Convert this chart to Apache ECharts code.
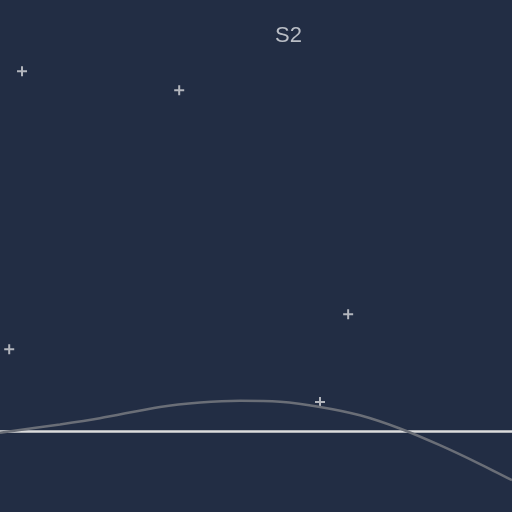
<!DOCTYPE html>
<html>
<head>
<meta charset="utf-8">
<script src="https://cdn.jsdelivr.net/npm/echarts@6/dist/echarts.min.js"></script>
<style>html,body{margin:0;padding:0;background:#222d44;}#c{width:512px;height:512px;}</style>
</head>
<body>
<div id="c"></div>
<script>
const titleText = 'S2';
const pointsX = [0.43, 3.5, 6.8, 0.18, 6.25];
const pointsY = [13.36, 12.65, 4.34, 3.04, 1.08];
const curveX = [0, 1.17, 1.95, 3.125, 3.91, 4.69, 5.47, 6.25, 7.03, 7.81, 8.59, 9.375, 10];
const curveY = [-0.06, 0.25, 0.48, 0.90, 1.065, 1.13, 1.09, 0.90, 0.59, 0.10, -0.52, -1.22, -1.82];

const chart = echarts.init(document.getElementById('c'));
chart.setOption({
  backgroundColor: '#222d44',
  animation: false,
  title: {
    text: titleText,
    left: 270,
    top: 20,
    textStyle: { color: '#b9bdc5', fontSize: 22, fontWeight: 'normal', fontFamily: 'Liberation Sans' }
  },
  grid: { left: 0, right: 0, top: 0, bottom: 0 },
  xAxis: {
    type: 'value', min: 0, max: 10,
    axisLine: { show: true, onZero: true, lineStyle: { color: '#dcdcdc', width: 2.5 } },
    axisTick: { show: false }, axisLabel: { show: false }, splitLine: { show: false }
  },
  yAxis: {
    type: 'value', min: -3, max: 16,
    axisLine: { show: false }, axisTick: { show: false }, axisLabel: { show: false }, splitLine: { show: false }
  },
  series: [
    {
      type: 'line',
      data: curveX.map((x, i) => [x, curveY[i]]),
      smooth: 0.3,
      showSymbol: false,
      lineStyle: { color: '#6a6e77', width: 2.5 }
    },
    {
      type: 'scatter',
      data: pointsX.map((x, i) => [x, pointsY[i]]),
      symbol: 'path://M4,0H6V4H10V6H6V10H4V6H0V4H4Z',
      symbolSize: 10,
      itemStyle: { color: '#d8d8dc' }
    }
  ]
});
</script>
</body>
</html>
